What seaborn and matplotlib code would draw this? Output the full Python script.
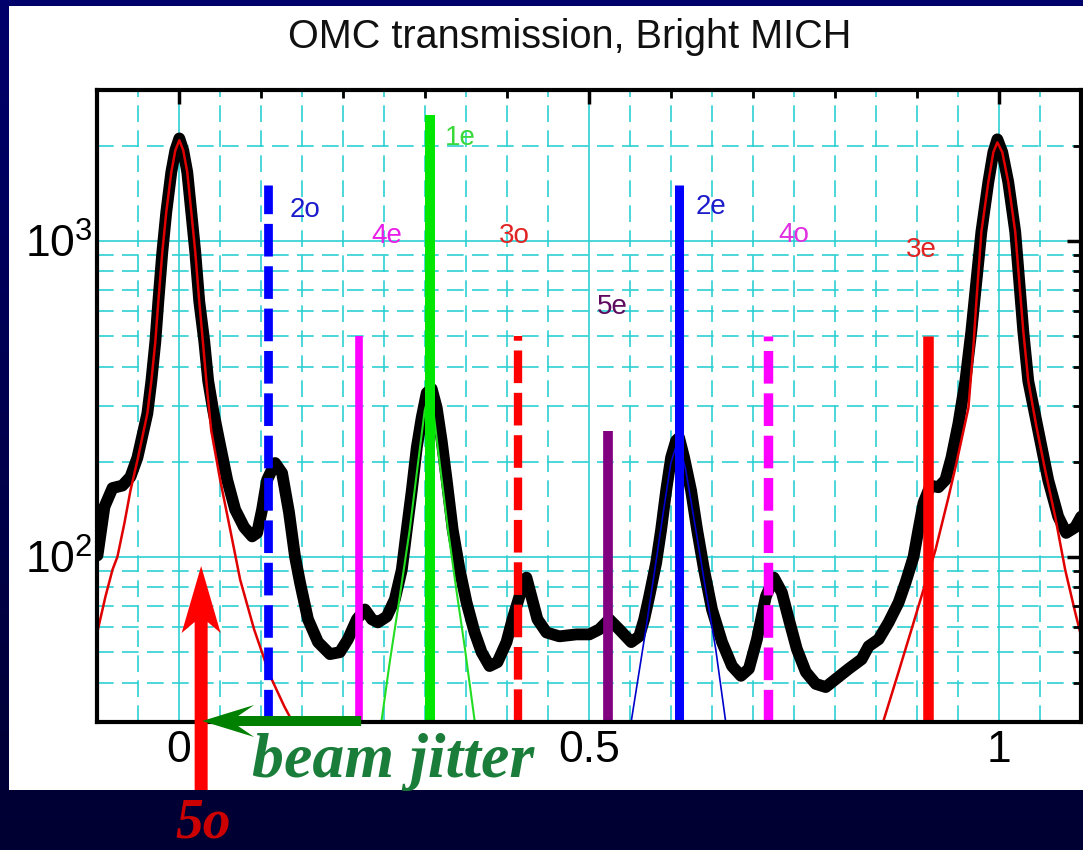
import numpy as np
import seaborn as sns
import matplotlib
matplotlib.use("Agg")
import matplotlib.pyplot as plt
from matplotlib.patches import Rectangle, Polygon
from matplotlib.colors import LinearSegmentedColormap
from matplotlib.ticker import FixedLocator, FixedFormatter, NullFormatter
from matplotlib.transforms import IdentityTransform

# ---------------- data ----------------
# measured OMC transmission (counts) versus PZT sweep (fraction of FSR)
black_x = [-0.0994, -0.0909, -0.0811, -0.0690, -0.0592, -0.0507, -0.0386, -0.0337, -0.0288, -0.0252,
           -0.0203, -0.0155, -0.0094, -0.0045, 0.0004, 0.0052, 0.0101, 0.0150, 0.0198, 0.0247,
           0.0308, 0.0356, 0.0417, 0.0490, 0.0588, 0.0685, 0.0794, 0.0892, 0.0953, 0.1013,
           0.1074, 0.1172, 0.1257, 0.1342, 0.1415, 0.1476, 0.1573, 0.1695, 0.1841, 0.1962,
           0.2060, 0.2169, 0.2267, 0.2352, 0.2425, 0.2534, 0.2632, 0.2717, 0.2778, 0.2839,
           0.2900, 0.2960, 0.3021, 0.3082, 0.3143, 0.3203, 0.3264, 0.3337, 0.3422, 0.3507,
           0.3605, 0.3690, 0.3787, 0.3884, 0.3994, 0.4067, 0.4177, 0.4237, 0.4298, 0.4371,
           0.4481, 0.4639, 0.4846, 0.5004, 0.5125, 0.5247, 0.5369, 0.5515, 0.5612, 0.5673,
           0.5734, 0.5819, 0.5880, 0.5941, 0.6001, 0.6062, 0.6099, 0.6160, 0.6245, 0.6318,
           0.6403, 0.6500, 0.6622, 0.6744, 0.6853, 0.6950, 0.7048, 0.7157, 0.7254, 0.7352,
           0.7437, 0.7534, 0.7644, 0.7765, 0.7887, 0.8009, 0.8167, 0.8325, 0.8410, 0.8532,
           0.8654, 0.8775, 0.8860, 0.8958, 0.9018, 0.9079, 0.9164, 0.9261, 0.9346, 0.9420,
           0.9505, 0.9590, 0.9663, 0.9724, 0.9785, 0.9870, 0.9931, 0.9980, 1.0040, 1.0113,
           1.0198, 1.0247, 1.0296, 1.0357, 1.0478, 1.0600, 1.0722, 1.0819, 1.0929, 1.1002]
black_y = [101, 144, 165, 168, 179, 206, 284, 360, 481, 643,
           923, 1233, 1648, 1932, 2108, 1932, 1648, 1233, 923, 643,
           481, 360, 290, 233, 175, 141, 124, 116, 119, 141,
           175, 198, 184, 138, 100, 82.8, 63.4, 53.7, 49.2, 49.9,
           54.8, 63.4, 68.1, 63.4, 62.0, 64.7, 73.3, 91.0, 122, 162,
           222, 276, 330, 340, 296, 233, 175, 122, 91.0, 71.6,
           57.6, 49.9, 45.1, 46.4, 53.7, 63.4, 78.7, 85.9, 74.8, 63.4,
           57.6, 56.0, 56.8, 56.8, 58.9, 63.4, 58.9, 53.7, 56.0, 63.4,
           74.8, 95.7, 122, 162, 206, 233, 238, 206, 162, 122,
           91.0, 68.1, 53.7, 45.1, 42.0, 44.2, 54.8, 74.8, 85.9, 77.1,
           63.4, 51.1, 43.2, 39.6, 38.7, 41.0, 44.2, 47.4, 52.1, 54.8,
           62.0, 71.6, 82.8, 100, 122, 148, 168, 166, 175, 206,
           264, 360, 518, 743, 1067, 1534, 1906, 2094, 1906, 1534,
           1067, 743, 518, 360, 251, 175, 134, 119, 124, 134]

# carrier (00) resonance fits
fit00a_x = [-0.0994, -0.0897, -0.0811, -0.0751, -0.0665, -0.0592, -0.0507, -0.0386, -0.0337, -0.0288,
            -0.0252, -0.0203, -0.0155, -0.0094, -0.0045, 0.0004, 0.0052, 0.0101, 0.0150, 0.0198,
            0.0247, 0.0296, 0.0344, 0.0393, 0.0502, 0.0624, 0.0746, 0.0916, 0.1111, 0.1282, 0.1427]
fit00a_y = [58.1, 74.8, 91.0, 100, 128, 162, 202, 284, 360, 481,
            643, 923, 1233, 1648, 1932, 2080, 1932, 1648, 1233, 923,
            643, 464, 335, 251, 175, 122, 84.6, 58.9, 42.0, 33.7, 28.6]
fit00b_x = [0.8531, 0.8592, 0.8775, 0.8933, 0.9079, 0.9225, 0.9383, 0.9481, 0.9627, 0.9690,
            0.9724, 0.9785, 0.9870, 0.9931, 0.9980, 1.0040, 1.0113, 1.0198, 1.0247, 1.0296,
            1.0357, 1.0454, 1.0563, 1.0685, 1.0807, 1.0929, 1.1002]
fit00b_y = [27.5, 30.3, 43.2, 58.9, 78.7, 105, 154, 198, 296, 470,
            643, 1067, 1534, 1906, 2048, 1906, 1534, 1067, 743, 518,
            360, 260, 188, 134, 91.0, 66.7, 56.0]

# first- and second-order even mode fits
fit1e_x = [0.2460, 0.2570, 0.2692, 0.2814, 0.2915, 0.2996, 0.3049, 0.3097, 0.3179, 0.3280, 0.3382, 0.3483, 0.3615]
fit1e_y = [29.0, 46.4, 74.8, 122, 198, 290, 328, 296, 198, 122, 78.7, 52.1, 29.0]
fit2e_x = [0.5505, 0.5693, 0.5815, 0.5916, 0.5998, 0.6058, 0.6099, 0.6180, 0.6302, 0.6423, 0.6545, 0.6675]
fit2e_y = [29.0, 58.9, 95.7, 144, 198, 222, 228, 188, 122, 78.7, 51.1, 29.0]

# higher-order mode positions and marker heights
mode_names = ["2o", "4e", "1e", "3o", "5e", "2e", "4o", "3e"]
mode_pos = [0.109, 0.219, 0.306, 0.414, 0.523, 0.610, 0.718, 0.914]
mode_height = [1500, 500, 2500, 500, 250, 1500, 500, 500]
mode_5o_pos = 0.027

x_ticks = [0, 0.5, 1]
x_tick_labels = ["0", "0.5", "1"]
y_ticks = [100, 1000]
y_tick_labels = [r"$\mathregular{10^2}$", r"$\mathregular{10^3}$"]

# ---------------- styles ----------------
mode_color = ["#0000ff", "#ff00ff", "#00e600", "#ff0000", "#800080", "#0000ff", "#ff00ff", "#ff0000"]
mode_dashed = [True, False, False, True, False, False, True, False]
mode_lw = [6.3, 5.5, 7.2, 6.0, 7.0, 6.5, 6.8, 7.6]
label_color = ["#1c1ccc", "#e81ee8", "#3ad93a", "#e02424", "#5e0a5e", "#1c1ccc", "#e030e0", "#e02424"]
label_xy = [(0.1345, 1250), (0.2352, 1038), (0.324, 2108), (0.3897, 1038),
            (0.5101, 615), (0.6305, 1280), (0.7315, 1045), (0.8860, 937)]

sns.set_theme(style="white")
plt.rcParams["font.family"] = ["Liberation Sans", "DejaVu Sans"]
plt.rcParams["mathtext.fontset"] = "custom"
plt.rcParams["mathtext.rm"] = "Liberation Sans"
plt.rcParams["lines.scale_dashes"] = False

W, H = 1083, 850
fig = plt.figure(figsize=(W / 100, H / 100), dpi=100)

# slide background with white panel
bg = fig.add_axes([0, 0, 1, 1], zorder=-5)
bg.set_axis_off()
navy = LinearSegmentedColormap.from_list("navy", ["#00006c", "#000032"])
bg.imshow(np.linspace(0, 1, 256)[:, None], cmap=navy, aspect="auto", extent=[0, 1, 0, 1])
bg.add_patch(Rectangle((9 / W, 1 - 790 / H), 1 - 9 / W, (790 - 6) / H,
                       facecolor="white", edgecolor="none"))
bg.set_xlim(0, 1)
bg.set_ylim(0, 1)

ax = fig.add_axes([97 / W, 1 - 722 / H, (1081 - 97) / W, (722 - 90) / H], zorder=1)
ax.set_facecolor("white")
ax.set_yscale("log")
y_lo, y_hi = 30, 3000
ax.set_xlim(-0.1, 1.1)
ax.set_ylim(y_lo, y_hi)

# cyan grid: solid on decades / major ticks, dashed in between
grid_c = "#2ccfd2"
for gx in np.round(np.arange(-0.05, 1.06, 0.05), 2):
    if gx in (0.0, 0.5, 1.0):
        ax.axvline(gx, color=grid_c, lw=1.2, zorder=0.5)
    else:
        ax.axvline(gx, color=grid_c, lw=1.2, ls=(0, (12, 6)), zorder=0.5)
for gy in [40, 50, 60, 70, 80, 90, 200, 300, 400, 500, 600, 700, 800, 900, 2000]:
    ax.axhline(gy, color=grid_c, lw=1.2, ls=(0, (12, 6)), zorder=0.5)
for gy in y_ticks:
    ax.axhline(gy, color=grid_c, lw=1.2, zorder=0.5)

# measured transmission
sns.lineplot(x=black_x, y=black_y, ax=ax, color="black", lw=8.5, sort=False,
             estimator=None, zorder=2, solid_joinstyle="round", solid_capstyle="round")

# fits
sns.lineplot(x=fit00a_x, y=fit00a_y, ax=ax, color="#e00000", lw=1.8, sort=False, estimator=None, zorder=3)
sns.lineplot(x=fit00b_x, y=fit00b_y, ax=ax, color="#e00000", lw=1.8, sort=False, estimator=None, zorder=3)
sns.lineplot(x=fit1e_x, y=fit1e_y, ax=ax, color="#22dd22", lw=1.5, sort=False, estimator=None, zorder=3)
sns.lineplot(x=fit2e_x, y=fit2e_y, ax=ax, color="#0000cc", lw=1.2, sort=False, estimator=None, zorder=3)

# mode markers
for name, xp, hgt, c, dashed, lw, lc, (lx, ly) in zip(mode_names, mode_pos, mode_height, mode_color,
                                                   mode_dashed, mode_lw, label_color, label_xy):
    ls = (0, (23.5, 7)) if dashed else "-"
    ax.plot([xp, xp], [y_lo, hgt], color=c, lw=lw, ls=ls, zorder=4,
            solid_capstyle="butt", dash_capstyle="butt")
    ax.text(lx, ly, name, color=lc, fontsize=20, ha="left", va="center", zorder=5)

# ticks and frame
ax.xaxis.set_major_locator(FixedLocator(x_ticks))
ax.xaxis.set_major_formatter(FixedFormatter(x_tick_labels))
ax.xaxis.set_minor_locator(FixedLocator([0.1, 0.2, 0.3, 0.4, 0.6, 0.7, 0.8, 0.9]))
ax.xaxis.set_minor_formatter(NullFormatter())
ax.yaxis.set_major_locator(FixedLocator(y_ticks))
ax.yaxis.set_major_formatter(FixedFormatter(y_tick_labels))
ax.yaxis.set_minor_locator(FixedLocator([40, 50, 60, 70, 80, 90, 200, 300, 400, 500,
                                         600, 700, 800, 900, 2000]))
ax.yaxis.set_minor_formatter(NullFormatter())
ax.tick_params(which="major", direction="in", length=10, width=2.5, top=True, right=True,
               labelsize=32, color="black", labelcolor="black")
ax.tick_params(which="minor", direction="in", length=5.5, width=2, top=True, right=True, color="black")
ax.tick_params(axis="x", which="major", pad=6)
ax.tick_params(axis="y", which="major", pad=3)
for s in ax.spines.values():
    s.set_linewidth(3)
    s.set_color("black")
    s.set_zorder(6)
ax.xaxis.set_zorder(6)
ax.yaxis.set_zorder(6)
ax.set_xlabel("")
ax.set_ylabel("")

fig.text(570 / W, 1 - 37 / H, "OMC transmission, Bright MICH", ha="center", va="center",
         fontsize=28.5, color="#111111")

# 5o marker arrow and beam-jitter arrow (pixel geometry, anchored at the 5o position)
x5 = ax.transData.transform((mode_5o_pos, 100))[0]


def px(pts):
    return [(x, H - y) for x, y in pts]


red_arrow = px([(x5 - 6.5, 790), (x5 - 6.5, 622), (x5 - 19.5, 633), (x5, 566),
                (x5 + 19.5, 633), (x5 + 6.5, 622), (x5 + 6.5, 790)])
fig.add_artist(Polygon(red_arrow, closed=True, transform=IdentityTransform(),
                       facecolor="#ff0000", edgecolor="none", zorder=10))
green_arrow = px([(x5 + 160, 716), (x5 + 37, 716), (x5 + 53, 705), (x5 + 1, 721),
                  (x5 + 53, 737), (x5 + 37, 726), (x5 + 160, 726)])
fig.add_artist(Polygon(green_arrow, closed=True, transform=IdentityTransform(),
                       facecolor="#008000", edgecolor="none", zorder=10))

fig.text((x5 + 2) / W, 1 - 837 / H, "5o", ha="center", va="baseline", fontsize=40,
         family=["Liberation Serif"], weight="bold", style="italic", color="#cc0000", zorder=11)
fig.text(252 / W, 1 - 777 / H, "beam jitter", ha="left", va="baseline", fontsize=46,
         family=["Liberation Serif"], weight="bold", style="italic", color="#1b7d3a", zorder=11)

fig.savefig("out.png", dpi=100)
